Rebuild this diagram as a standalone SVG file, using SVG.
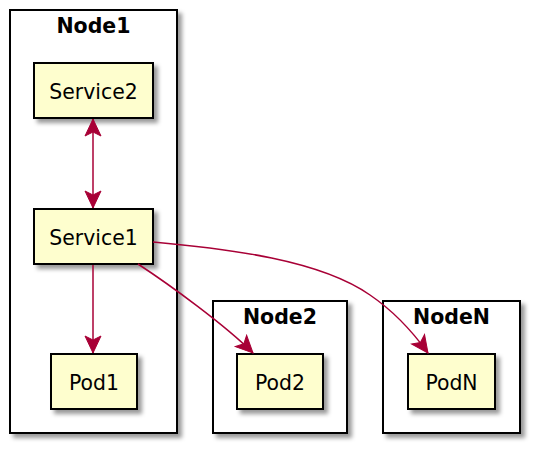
<svg xmlns="http://www.w3.org/2000/svg" width="536" height="450" viewBox="0 0 536 450">
<defs>
<filter id="sh" x="-20%" y="-20%" width="150%" height="150%">
<feDropShadow dx="4" dy="4" stdDeviation="2" flood-color="#000" flood-opacity="0.4"/>
</filter>
<marker id="ah" markerUnits="userSpaceOnUse" markerWidth="20" markerHeight="20" viewBox="-18 -9 20 18" refX="0" refY="0" orient="auto-start-reverse">
<path d="M0,0 L-17,-8 L-13,0 L-17,8 Z" fill="#A80036" stroke="#A80036" stroke-width="1"/>
</marker>
<style>
.frame{fill:#fff;stroke:#000;stroke-width:2;filter:url(#sh)}
.comp{fill:#FEFECE;stroke:#000;stroke-width:2;filter:url(#sh)}
.title{font-family:"DejaVu Sans",sans-serif;font-weight:bold;font-size:20.5px;text-anchor:middle;fill:#000}
.lbl{font-family:"DejaVu Sans",sans-serif;font-size:20.4px;text-anchor:middle;fill:#000}
.c{fill:none;stroke:#A80036;stroke-width:1.5}
</style>
</defs>
<g id="Node1">
<rect class="frame" x="10" y="10" width="167" height="423"/>
<text class="title" x="93.5" y="33">Node1</text>
</g>
<g id="Node2">
<rect class="frame" x="213" y="301" width="134" height="132"/>
<text class="title" x="280" y="324">Node2</text>
</g>
<g id="NodeN">
<rect class="frame" x="383" y="301" width="137" height="132"/>
<text class="title" x="451.5" y="324">NodeN</text>
</g>
<g id="Service2">
<rect class="comp" x="34" y="63" width="119" height="55"/>
<text class="lbl" x="93.5" y="98.5">Service2</text>
</g>
<g id="Service1">
<rect class="comp" x="34" y="209" width="119" height="55"/>
<text class="lbl" x="93.5" y="244.5">Service1</text>
</g>
<g id="Pod1">
<rect class="comp" x="51" y="354" width="86" height="55"/>
<text class="lbl" x="94" y="389.5">Pod1</text>
</g>
<g id="Pod2">
<rect class="comp" x="237" y="354" width="86" height="55"/>
<text class="lbl" x="280" y="389.5">Pod2</text>
</g>
<g id="PodN">
<rect class="comp" x="408" y="354" width="87" height="55"/>
<text class="lbl" x="451.5" y="389.5">PodN</text>
</g>
<g id="connectors">
<path class="c" d="M93,119 L93,208" marker-start="url(#ah)" marker-end="url(#ah)"/>
<path class="c" d="M93,265 L93,353" marker-end="url(#ah)"/>
<path class="c" d="M138,264 C170,285 225,325 253,353" marker-end="url(#ah)"/>
<path class="c" d="M153,242 C230,249 320,260 370,295 C395,312 415,335 428,353" marker-end="url(#ah)"/>
</g>
</svg>
